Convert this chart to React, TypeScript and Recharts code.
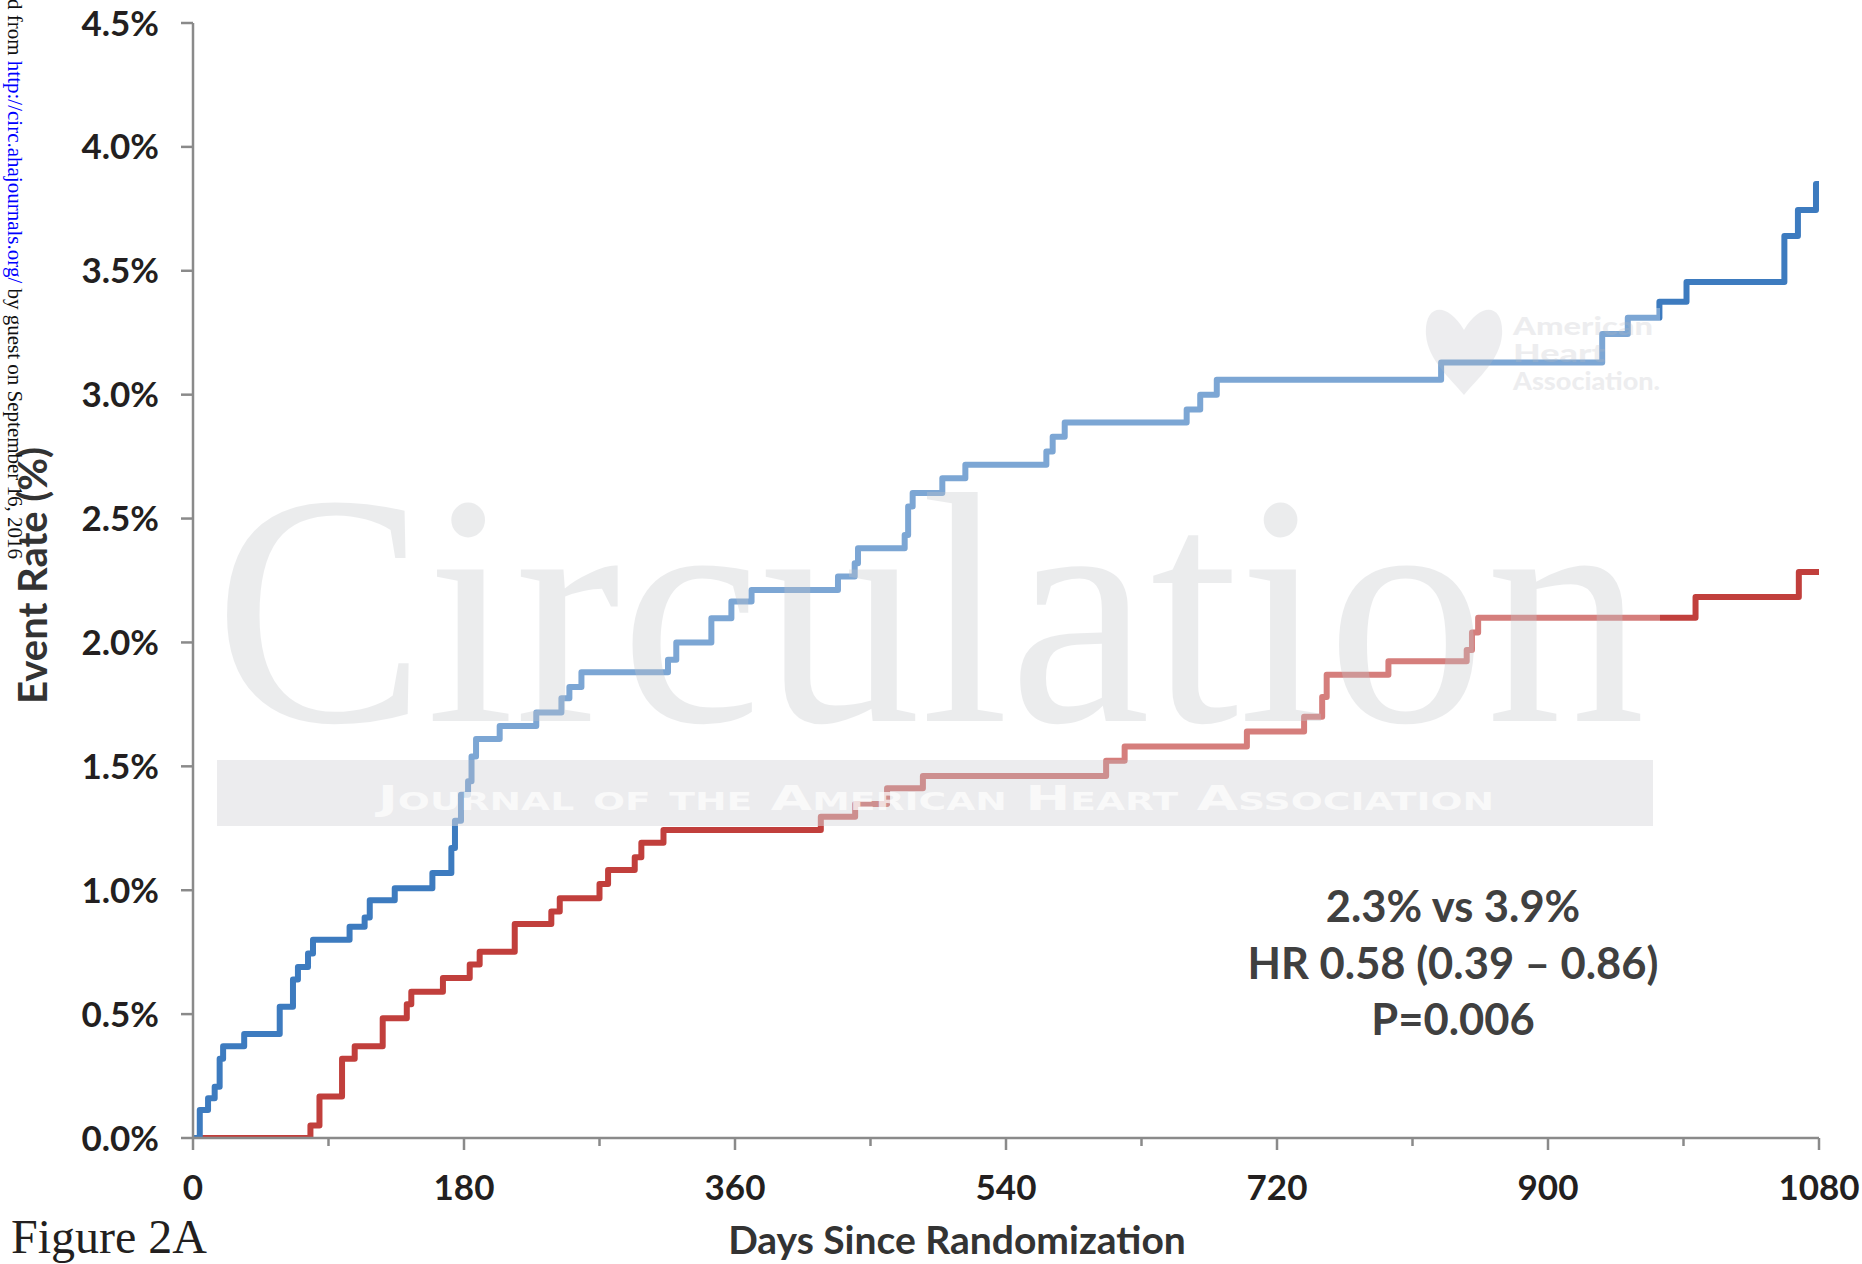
import React from 'react';
import { LineChart, Line, XAxis, YAxis } from 'recharts';

const CHART_W = 1862;
const CHART_H = 1264;

// Day tick values (labels on multiples of 180; minor ticks in between)
const xTicks = [0, 90, 180, 270, 360, 450, 540, 630, 720, 810, 900, 990, 1080];
const yTicks = [0, 0.5, 1.0, 1.5, 2.0, 2.5, 3.0, 3.5, 4.0, 4.5];

// Blue curve (3.9% at 3 years)
const comparatorDays = [0, 4.5, 10, 14.4, 17.7, 20, 34, 57.6, 66.4, 69.7, 76.4, 79.7, 104, 114, 117.4, 134, 159, 171.6, 174, 178, 182.7, 185, 188, 203.7, 228, 244.7, 250, 258, 315.5, 321, 344.3, 357.6, 371, 428.4, 439.5, 441.7, 472.7, 475, 478, 497.7, 513, 566.8, 571, 579, 660, 669, 680, 829, 936, 953, 974, 992, 1057, 1066, 1078, 1080];
const comparatorRates = [0, 0.113, 0.16, 0.207, 0.32, 0.37, 0.42, 0.53, 0.64, 0.69, 0.745, 0.8, 0.853, 0.89, 0.96, 1.008, 1.07, 1.17, 1.28, 1.385, 1.44, 1.54, 1.61, 1.663, 1.717, 1.775, 1.82, 1.88, 1.93, 2.0, 2.098, 2.165, 2.212, 2.266, 2.32, 2.38, 2.434, 2.549, 2.603, 2.663, 2.717, 2.771, 2.83, 2.888, 2.94, 3.0, 3.06, 3.13, 3.245, 3.31, 3.375, 3.455, 3.64, 3.745, 3.85, 3.85];

// Red curve (2.3% at 3 years)
const treatedDays = [0, 78, 84, 99, 107.4, 126, 142, 145, 166, 183.8, 190.4, 213.7, 238, 243.6, 270, 275.7, 293.4, 297.8, 312.5, 417, 439.8, 461, 484.8, 606.5, 618.8, 700, 738, 750, 753, 794, 846, 849.5, 853.6, 998, 1066.6, 1080];
const treatedRates = [0, 0.05, 0.167, 0.32, 0.37, 0.483, 0.54, 0.59, 0.646, 0.7, 0.752, 0.864, 0.914, 0.968, 1.025, 1.082, 1.133, 1.192, 1.243, 1.297, 1.348, 1.412, 1.461, 1.523, 1.58, 1.641, 1.7, 1.78, 1.87, 1.924, 1.97, 2.04, 2.1, 2.183, 2.284, 2.284];

const annotationLines = ['2.3% vs 3.9%', 'HR 0.58 (0.39 \u2013 0.86)', 'P=0.006'];

const comparatorData = comparatorDays.map((d, i) => ({ day: d, rate: comparatorRates[i] }));
const treatedData = treatedDays.map((d, i) => ({ day: d, rate: treatedRates[i] }));

const AXIS = '#8a8a8a';
const TXT = '#231f20';
const FONT = 'Lato, "Open Sans", sans-serif';
const BLUE = '#3d7bbf';
const RED = '#c13f3c';

function XTick(props: any) {
  const { x, y, payload } = props;
  const major = payload.value % 180 === 0;
  return (
    <g>
      <line x1={x} x2={x} y1={y} y2={y + (major ? 12 : 8)} stroke={AXIS} strokeWidth={2.5} />
      {major && (
        <text x={x} y={y + 62} textAnchor="middle" fontFamily={FONT} fontWeight={700} fontSize={35} fill={TXT}>
          {payload.value}
        </text>
      )}
    </g>
  );
}

function YTick(props: any) {
  const { x, y, payload } = props;
  return (
    <g>
      <line x1={x - 12} x2={x} y1={y} y2={y} stroke={AXIS} strokeWidth={2.5} />
      <text x={x - 34} y={y + 12.5} textAnchor="end" fontFamily={FONT} fontWeight={700} fontSize={35} fill={TXT}>
        {`${Number(payload.value).toFixed(1)}%`}
      </text>
    </g>
  );
}

function XTitle(props: any) {
  const vb = props.viewBox || { x: 193, y: 1138, width: 1626, height: 126 };
  return (
    <text x={vb.x + vb.width / 2 - 49} y={vb.y + 116} textAnchor="middle" fontFamily={FONT} fontWeight={700} fontSize={39} fill="#333333">
      Days Since Randomization
    </text>
  );
}

function YTitle(props: any) {
  const vb = props.viewBox || { x: 0, y: 23, width: 193, height: 1115 };
  const cx = 32;
  const cy = vb.y + vb.height / 2 - 5;
  return (
    <text x={cx} y={cy} transform={`rotate(-90 ${cx} ${cy})`} textAnchor="middle" dominantBaseline="central" fontFamily={FONT} fontWeight={700} fontSize={40} fill="#333333">
      Event Rate (%)
    </text>
  );
}

function Overlay() {
  return (
    <svg width={CHART_W} height={CHART_H} style={{ position: 'absolute', left: 0, top: 0, pointerEvents: 'none' }}>
      {/* journal watermark */}
      <rect x={215} y={308} width={1445} height={518} fill="#ffffff" opacity={0.33} />
      <text x={214} y={721} fontFamily='"Liberation Serif", "DejaVu Serif", serif' fontSize={330} fill="#c4c7cb" opacity={0.33} textLength={1431} lengthAdjust="spacingAndGlyphs">
        Circulation
      </text>
      <rect x={217} y={760} width={1436} height={66} fill="#b9bcc2" opacity={0.28} />
      <text x={378} y={810} fontFamily='"DejaVu Sans", sans-serif' fontWeight={700} fontSize={34} fill="#ffffff" opacity={0.7} style={{ fontVariant: 'small-caps' }} textLength={1116} lengthAdjust="spacingAndGlyphs">
        Journal of the American Heart Association
      </text>
      <g opacity={0.25} fill="#b9bcc2">
        <path d="M1464 330 C1446 300 1424 305 1426 335 C1428 360 1450 378 1464 395 C1478 378 1500 360 1502 335 C1504 305 1482 300 1464 330 Z" />
        <text x={1513} y={335} fontFamily={FONT} fontWeight={900} fontSize={25} textLength={140} lengthAdjust="spacingAndGlyphs">American</text>
        <text x={1513} y={362} fontFamily={FONT} fontWeight={900} fontSize={25} textLength={92} lengthAdjust="spacingAndGlyphs">Heart</text>
        <text x={1513} y={390} fontFamily={FONT} fontWeight={900} fontSize={25} textLength={147} lengthAdjust="spacingAndGlyphs">Association.</text>
      </g>
      {/* annotation */}
      {annotationLines.map((t, i) => (
        <text key={t} x={1453} y={922 + i * 56.7} textAnchor="middle" fontFamily={FONT} fontWeight={700} fontSize={43.5} fill="#404040">
          {t}
        </text>
      ))}
      {/* download stamp */}
      <text transform="translate(8 -1) rotate(90)" fontFamily='"Liberation Serif", serif' fontSize={21} fill="#111">
        d from <tspan fill="#0000ff">http://circ.ahajournals.org/</tspan> by guest on September 16, 2016
      </text>
      <text x={11} y={1253} fontFamily='"Liberation Serif", serif' fontSize={48} fill={TXT}>
        Figure 2A
      </text>
    </svg>
  );
}

export default function App() {
  return (
    <div style={{ position: 'absolute', left: 0, top: 0, width: CHART_W, height: CHART_H, background: '#fff' }}>
      <LineChart width={CHART_W} height={CHART_H} margin={{ top: 23, right: 43, bottom: 0, left: 0 }}>
        <XAxis
          dataKey="day"
          type="number"
          domain={[0, 1080]}
          ticks={xTicks}
          interval={0}
          height={126}
          tickLine={false}
          tickSize={0}
          tickMargin={0}
          axisLine={{ stroke: AXIS, strokeWidth: 2.5 }}
          tick={<XTick />}
          label={<XTitle />}
          allowDataOverflow
        />
        <YAxis
          type="number"
          domain={[0, 4.5]}
          ticks={yTicks}
          interval={0}
          width={193}
          tickLine={false}
          tickSize={0}
          tickMargin={0}
          axisLine={{ stroke: AXIS, strokeWidth: 2.5 }}
          tick={<YTick />}
          label={<YTitle />}
          allowDataOverflow
        />
        <Line data={treatedData} dataKey="rate" name="2.3%" type="stepAfter" stroke={RED} strokeWidth={6} dot={false} activeDot={false} strokeLinecap="round" strokeLinejoin="round" isAnimationActive={false} />
        <Line data={comparatorData} dataKey="rate" name="3.9%" type="stepAfter" stroke={BLUE} strokeWidth={6} dot={false} activeDot={false} strokeLinecap="round" strokeLinejoin="round" isAnimationActive={false} />
      </LineChart>
      <Overlay />
    </div>
  );
}
